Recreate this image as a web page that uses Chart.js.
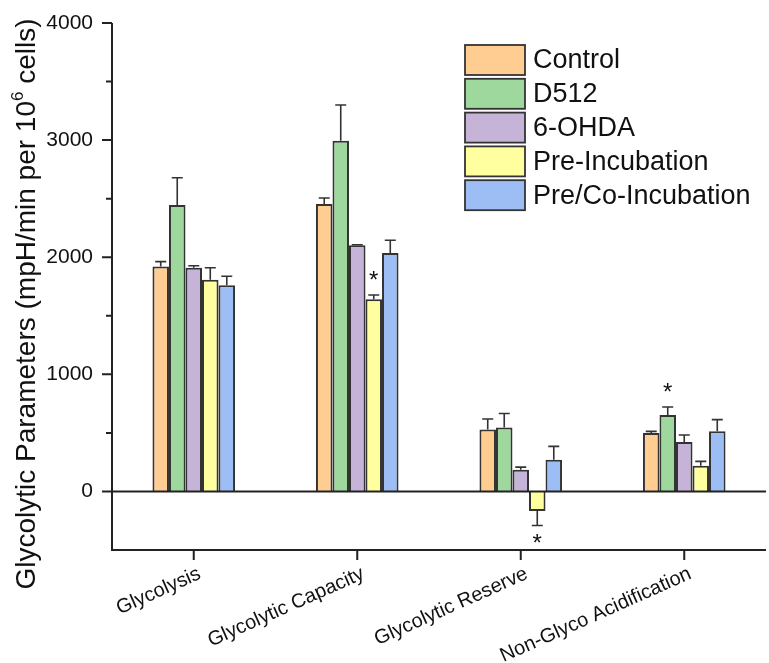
<!DOCTYPE html>
<html lang="en">
<head>
    <meta charset="UTF-8">
    <title>Glycolytic Parameters</title>
    <script src="https://cdn.jsdelivr.net/npm/chart.js"></script>
    <style>
        body { margin: 0; background: #fff; }
        .chart-container { width: 769px; height: 663px; position: relative; }
    </style>
</head>
<body>
    <div class="chart-container">
        <canvas id="barChart"></canvas>
    </div>

    <script>
        const categories = ['Glycolysis', 'Glycolytic Capacity', 'Glycolytic Reserve', 'Non-Glyco Acidification'];
        const seriesNames = ['Control', 'D512', '6-OHDA', 'Pre-Incubation', 'Pre/Co-Incubation'];
        const seriesColors = ['#ffcc91', '#9ed89c', '#c6b4d8', '#ffffa0', '#9dbdf5'];

        // mean values and SEM per group
        const control    = [1920, 2455, 530, 499];
        const controlErr = [42, 51, 89, 14];
        const d512       = [2445, 2995, 545, 653];
        const d512Err    = [233, 305, 120, 68];
        const ohda       = [1910, 2102, 185, 422];
        const ohdaErr    = [17, 5, 23, 60];
        const preInc     = [1808, 1642, -168, 220];
        const preIncErr  = [102, 35, 123, 37];
        const preCo      = [1760, 2036, 271, 513];
        const preCoErr   = [77, 109, 114, 100];

        // significance marks: [series index, category index]
        const significant = [[3, 1], [3, 2], [1, 3]];

        const seriesValues = [control, d512, ohda, preInc, preCo];
        const seriesErrors = [controlErr, d512Err, ohdaErr, preIncErr, preCoErr];

        const FONT = '"Liberation Sans", Arial, sans-serif';
        const INK = '#222';

        // axis lines, ticks, error bars, stars, legend and y title
        const decorations = {
            id: 'decorations',
            afterDatasetsDraw(chart) {
                const ctx = chart.ctx;
                const area = chart.chartArea;
                const x = chart.scales.x;
                const y = chart.scales.y;
                ctx.save();

                // error bars
                ctx.strokeStyle = '#333';
                ctx.lineWidth = 1.6;
                chart.data.datasets.forEach((ds, di) => {
                    const meta = chart.getDatasetMeta(di);
                    meta.data.forEach((bar, i) => {
                        const v = ds.data[i];
                        const e = seriesErrors[di][i];
                        const end = v >= 0 ? v + e : v - e;
                        const y0 = y.getPixelForValue(v);
                        const y1 = y.getPixelForValue(end);
                        ctx.beginPath();
                        ctx.moveTo(bar.x, y0);
                        ctx.lineTo(bar.x, y1);
                        ctx.moveTo(bar.x - 5.5, y1);
                        ctx.lineTo(bar.x + 5.5, y1);
                        ctx.stroke();
                    });
                });

                // significance stars
                ctx.fillStyle = '#111';
                ctx.font = '24px ' + FONT;
                ctx.textAlign = 'center';
                ctx.textBaseline = 'alphabetic';
                significant.forEach(([di, i]) => {
                    const bar = chart.getDatasetMeta(di).data[i];
                    const v = seriesValues[di][i];
                    const e = seriesErrors[di][i];
                    if (v >= 0) {
                        ctx.fillText('*', bar.x, y.getPixelForValue(v + e) - 7);
                    } else {
                        ctx.fillText('*', bar.x, y.getPixelForValue(v - e) + 25);
                    }
                });

                // axes
                ctx.strokeStyle = INK;
                ctx.lineWidth = 2;
                ctx.beginPath();
                ctx.moveTo(area.left, area.top);
                ctx.lineTo(area.left, area.bottom + 1);
                ctx.moveTo(area.left - 1, area.bottom);
                ctx.lineTo(area.right, area.bottom);
                ctx.moveTo(area.left, y.getPixelForValue(0));
                ctx.lineTo(area.right, y.getPixelForValue(0));
                for (let v = 0; v <= 4000; v += 500) {
                    const py = y.getPixelForValue(v);
                    const len = v % 1000 === 0 ? 10 : 6;
                    ctx.moveTo(area.left - len, py);
                    ctx.lineTo(area.left, py);
                }
                categories.forEach((c, i) => {
                    const px = x.getPixelForValue(i);
                    ctx.moveTo(px, area.bottom);
                    ctx.lineTo(px, area.bottom + 10);
                });
                ctx.stroke();

                // legend
                ctx.font = '27px ' + FONT;
                ctx.textAlign = 'left';
                ctx.textBaseline = 'middle';
                ctx.lineWidth = 1.8;
                seriesNames.forEach((name, i) => {
                    const top = 45 + i * 33.8;
                    ctx.fillStyle = seriesColors[i];
                    ctx.fillRect(465, top, 60, 30);
                    ctx.strokeStyle = '#333';
                    ctx.strokeRect(465, top, 60, 30);
                    ctx.fillStyle = '#111';
                    ctx.fillText(name, 533, top + 16);
                });

                // y title with superscript
                const main = 'Glycolytic Parameters (mpH/min per 10';
                const sup = '6';
                const tail = ' cells)';
                ctx.font = '28px ' + FONT;
                const wMain = ctx.measureText(main).width;
                const wTail = ctx.measureText(tail).width;
                ctx.font = '17px ' + FONT;
                const wSup = ctx.measureText(sup).width;
                const total = wMain + wSup + wTail;
                ctx.translate(25, 304);
                ctx.rotate(-Math.PI / 2);
                ctx.fillStyle = '#111';
                ctx.textBaseline = 'alphabetic';
                let cx = -total / 2;
                ctx.font = '28px ' + FONT;
                ctx.fillText(main, cx, 10);
                cx += wMain;
                ctx.font = '17px ' + FONT;
                ctx.fillText(sup, cx, -2);
                cx += wSup;
                ctx.font = '28px ' + FONT;
                ctx.fillText(tail, cx, 10);

                ctx.restore();
            }
        };

        new Chart(document.getElementById('barChart'), {
            type: 'bar',
            data: {
                labels: categories,
                datasets: seriesNames.map((name, i) => ({
                    label: name,
                    data: seriesValues[i],
                    backgroundColor: seriesColors[i],
                    borderColor: '#333',
                    borderWidth: 2,
                    categoryPercentage: 0.505,
                    barPercentage: 1
                }))
            },
            options: {
                responsive: true,
                maintainAspectRatio: false,
                animation: false,
                layout: { padding: { top: 23, right: 3 } },
                plugins: {
                    legend: { display: false },
                    tooltip: { enabled: false }
                },
                scales: {
                    x: {
                        offset: true,
                        grid: { display: true, color: 'rgba(0,0,0,0)', drawOnChartArea: false, tickLength: 10, offset: true },
                        border: { display: false },
                        ticks: {
                            autoSkip: false,
                            minRotation: 24,
                            maxRotation: 24,
                            padding: 2,
                            labelOffset: 6,
                            color: '#111',
                            font: { family: FONT, size: 20 }
                        },
                        afterFit(scale) { scale.height = 113; }
                    },
                    y: {
                        min: -500,
                        max: 4000,
                        grid: { display: true, color: 'rgba(0,0,0,0)', drawOnChartArea: false, tickLength: 10 },
                        border: { display: false },
                        ticks: {
                            stepSize: 500,
                            padding: 9,
                            color: '#111',
                            font: { family: FONT, size: 21 },
                            callback: v => (v >= 0 && v % 1000 === 0) ? v : ''
                        },
                        afterFit(scale) { scale.width = 112; }
                    }
                }
            },
            plugins: [decorations]
        });
    </script>
</body>
</html>
